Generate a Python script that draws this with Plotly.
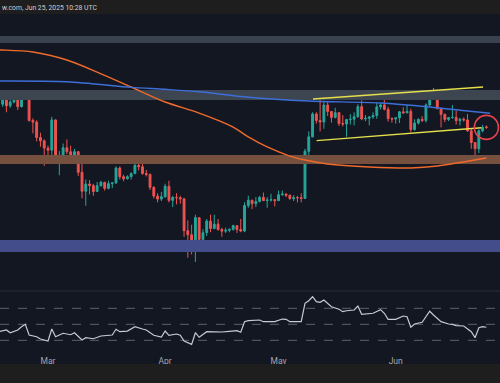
import pandas as pd
import plotly.graph_objects as go

# ---------------- data ----------------
DATES = pd.date_range("2025-02-17", "2025-06-25", freq="D")

OPEN = [2690, 2745, 2672, 2714, 2737, 2662, 2763, 2818, 2512, 2495, 2338, 2306,
        2237, 2217, 2518, 2150, 2170, 2240, 2202, 2140, 2203, 2020, 1865, 1923,
        1910, 1863, 1910, 1937, 1888, 1926, 1932, 2057, 1983, 1966, 1983, 2009,
        2080, 2068, 2009, 2002, 1896, 1828, 1805,
        1823, 1905, 1795, 1817, 1815, 1806, 1580, 1553, 1475, 1669, 1523, 1567,
        1645, 1595, 1624, 1588, 1577, 1583, 1589, 1614, 1588, 1578, 1756, 1796,
        1770, 1786, 1818, 1793, 1798, 1800,
        1793, 1838, 1843, 1834, 1808, 1816, 1815, 1810, 2207, 2345, 2582, 2512,
        2496, 2680, 2609, 2545, 2596, 2480, 2475, 2522, 2526, 2552, 2663, 2528,
        2535, 2550, 2565, 2660, 2682, 2633, 2532,
        2527, 2540, 2605, 2594, 2610, 2418, 2485, 2524, 2512, 2681, 2816, 2770,
        2643, 2578, 2523, 2543, 2545, 2510, 2525, 2518, 2405, 2290, 2230, 2405,
        2445]
HIGH = [2790, 2760, 2740, 2760, 2845, 2790, 2855, 2830, 2535, 2515, 2385, 2320,
        2260, 2550, 2525, 2210, 2280, 2320, 2260, 2230, 2210, 2150, 1960, 1955,
        1925, 1940, 1950, 1940, 1950, 1935, 2070, 2070, 2000, 1995, 2020, 2100,
        2105, 2100, 2040, 2010, 1905, 1850, 1860,
        1925, 1950, 1830, 1850, 1830, 1815, 1650, 1620, 1690, 1672, 1590, 1660,
        1690, 1690, 1660, 1600, 1600, 1595, 1620, 1615, 1660, 1780, 1830, 1800,
        1820, 1830, 1855, 1820, 1845, 1805,
        1870, 1870, 1850, 1840, 1835, 1830, 1850, 2230, 2400, 2600, 2600, 2740,
        2730, 2720, 2615, 2650, 2600, 2570, 2530, 2580, 2600, 2690, 2735, 2570,
        2560, 2600, 2710, 2700, 2790, 2660, 2545,
        2545, 2615, 2655, 2680, 2640, 2525, 2535, 2560, 2700, 2830, 2880, 2790,
        2645, 2585, 2550, 2680, 2620, 2540, 2545, 2580, 2425, 2295, 2420, 2465,
        2460]
LOW = [2660, 2600, 2650, 2700, 2625, 2655, 2745, 2500, 2380, 2300, 2250, 2075,
       2140, 2170, 2100, 1995, 2165, 2180, 2110, 2125, 1990, 1810, 1755, 1840,
       1830, 1860, 1900, 1870, 1880, 1890, 1925, 1960, 1945, 1960, 1960, 2005,
       2035, 2000, 1985, 1875, 1810, 1780, 1790,
       1815, 1780, 1745, 1765, 1770, 1540, 1410, 1430, 1385, 1470, 1505, 1545,
       1570, 1590, 1580, 1540, 1565, 1570, 1580, 1565, 1570, 1570, 1740, 1730,
       1745, 1780, 1790, 1740, 1785, 1750,
       1790, 1830, 1820, 1800, 1790, 1780, 1780, 1805, 2170, 2340, 2480, 2400,
       2425, 2560, 2490, 2535, 2455, 2450, 2345, 2470, 2460, 2540, 2515, 2505,
       2460, 2530, 2530, 2630, 2620, 2500, 2490,
       2480, 2485, 2585, 2590, 2390, 2405, 2470, 2495, 2490, 2660, 2745, 2630,
       2440, 2495, 2505, 2530, 2470, 2460, 2500, 2395, 2230, 2111, 2190, 2390,
       2425]
CLOSE = [2745, 2672, 2714, 2737, 2662, 2763, 2818, 2512, 2495, 2338, 2306, 2237,
         2217, 2518, 2150, 2170, 2240, 2202, 2140, 2203, 2020, 1865, 1923, 1910,
         1863, 1910, 1937, 1888, 1926, 1932, 2057, 1983, 1966, 1983, 2009, 2080,
         2068, 2009, 2002, 1896, 1828, 1805, 1823,
         1905, 1795, 1817, 1815, 1806, 1580, 1553, 1475, 1669, 1523, 1567, 1645,
         1595, 1624, 1588, 1577, 1583, 1589, 1614, 1588, 1578, 1756, 1796, 1770,
         1786, 1818, 1793, 1798, 1800, 1793,
         1838, 1843, 1834, 1808, 1816, 1815, 1810, 2207, 2345, 2582, 2512, 2496,
         2680, 2609, 2545, 2596, 2480, 2475, 2522, 2526, 2552, 2663, 2528, 2535,
         2550, 2565, 2660, 2682, 2633, 2532, 2527,
         2540, 2605, 2594, 2610, 2418, 2485, 2524, 2512, 2681, 2816, 2770, 2643,
         2578, 2523, 2543, 2545, 2510, 2525, 2518, 2405, 2290, 2230, 2405, 2440,
         2440]

# moving averages
MA_ORANGE_DATES = ["2025-02-14", "2025-02-17", "2025-02-25", "2025-03-06", "2025-03-14",
                   "2025-03-23", "2025-04-01", "2025-04-10", "2025-04-19", "2025-04-23",
                   "2025-04-28", "2025-05-04", "2025-05-08", "2025-05-14", "2025-05-25",
                   "2025-06-05", "2025-06-12", "2025-06-25"]
MA_ORANGE = [3382, 3379, 3351, 3240, 3080, 2892, 2715, 2592, 2444, 2344,
             2247, 2163, 2127, 2092, 2066, 2057, 2074, 2145]

MA_BLUE_DATES = ["2025-02-14", "2025-03-06", "2025-03-23", "2025-04-01", "2025-04-10",
                 "2025-04-23", "2025-05-09", "2025-05-28", "2025-06-10", "2025-06-20",
                 "2025-06-26"]
MA_BLUE = [2966, 2957, 2888, 2864, 2835, 2770, 2727, 2704, 2659, 2614, 2590]

# channel trend lines
UPPER_DATES = ["2025-05-10 03:00", "2025-06-24 03:00"]
UPPER = [2750, 2892]
LOWER_DATES = ["2025-05-11 02:00", "2025-06-23 17:00"]
LOWER = [2308, 2437]

# horizontal zones (low, high)
ZONES = [(3480, 3584), (2738, 2856), (2092, 2173), (1445, 1520)]
ZONE_COLORS = ["#3a4250", "#3d4550", "#76503f", "#444d8c"]

# highlighted candle
MARK_DATE = ["2025-06-25"]
MARK_PRICE = [2440]

# RSI
RSI_DATES = ["2025-02-16", "2025-02-18", "2025-02-19", "2025-02-21", "2025-02-22",
             "2025-02-23", "2025-02-24", "2025-02-26", "2025-02-27", "2025-03-01",
             "2025-03-02", "2025-03-03", "2025-03-05", "2025-03-07", "2025-03-08",
             "2025-03-10", "2025-03-11", "2025-03-13", "2025-03-15", "2025-03-17",
             "2025-03-18", "2025-03-19", "2025-03-20", "2025-03-22", "2025-03-24",
             "2025-03-26", "2025-03-27", "2025-03-29", "2025-03-31", "2025-04-01",
             "2025-04-02", "2025-04-04", "2025-04-05", "2025-04-06", "2025-04-08",
             "2025-04-09", "2025-04-10", "2025-04-12", "2025-04-14", "2025-04-16",
             "2025-04-18", "2025-04-20", "2025-04-21", "2025-04-22", "2025-04-23",
             "2025-04-26", "2025-04-27", "2025-04-30", "2025-05-02", "2025-05-03",
             "2025-05-04", "2025-05-07", "2025-05-08", "2025-05-09", "2025-05-10",
             "2025-05-11", "2025-05-12", "2025-05-13", "2025-05-15", "2025-05-17",
             "2025-05-18", "2025-05-19", "2025-05-21", "2025-05-22", "2025-05-23",
             "2025-05-26", "2025-05-28", "2025-05-29", "2025-05-30", "2025-06-01",
             "2025-06-03", "2025-06-04", "2025-06-05", "2025-06-06", "2025-06-08",
             "2025-06-10", "2025-06-11", "2025-06-13", "2025-06-15", "2025-06-16",
             "2025-06-17", "2025-06-19", "2025-06-21", "2025-06-22", "2025-06-23",
             "2025-06-24", "2025-06-25"]
RSI = [40.8, 42.9, 39.5, 42.9, 47.0, 50.0, 36.6, 34.5, 31.6, 29.1,
       44.1, 34.5, 38.8, 37.0, 39.5, 30.4, 33.3, 32.0, 35.4, 36.3,
       36.6, 43.8, 40.8, 41.6, 47.0, 44.1, 42.9, 36.3, 34.1, 41.6,
       36.3, 37.9, 36.3, 29.1, 25.0, 39.5, 33.8, 40.8, 40.4, 40.4,
       41.3, 42.0, 40.0, 53.3, 54.5, 55.4, 53.3, 53.3, 56.6, 56.3,
       53.3, 53.3, 76.3, 79.5, 84.5, 78.3, 77.5, 80.4, 72.0, 68.8,
       65.8, 67.0, 67.9, 72.9, 62.5, 63.8, 68.3, 63.8, 56.3, 56.3,
       60.4, 59.5, 46.3, 50.4, 52.5, 66.3, 61.6, 53.3, 50.4, 50.0,
       48.3, 47.9, 40.8, 33.3, 45.8, 47.0, 46.3]
RSI_LEVELS = [70, 50, 30]

MONTH_TICKS = ["2025-03-01", "2025-04-01", "2025-05-01", "2025-06-01"]
MONTH_LABELS = ["Mar", "Apr", "May", "Jun"]

HEADER = "w.com, Jun 25, 2025 10:28 UTC"

# ---------------- figure ----------------
W, H = 500, 383
BG = "#131722"
BAR = "#1e1e1f"
X_RANGE = ["2025-02-16 07:12", "2025-06-28 14:24"]
BAND_X = ["2025-02-01", "2025-07-15"]


def py(pix):
    return 1 - pix / H


fig = go.Figure()

for (lo, hi), col in zip(ZONES, ZONE_COLORS):
    fig.add_trace(go.Scatter(
        x=[BAND_X[0], BAND_X[1], BAND_X[1], BAND_X[0], BAND_X[0]],
        y=[lo, lo, hi, hi, lo], mode="lines", fill="toself",
        fillcolor=col, line=dict(width=0), hoverinfo="skip",
        xaxis="x", yaxis="y"))

fig.add_trace(go.Scatter(x=MA_ORANGE_DATES, y=MA_ORANGE, mode="lines",
                         line=dict(color="#ef6a2c", width=1.4, shape="spline", smoothing=0.8),
                         xaxis="x", yaxis="y"))
fig.add_trace(go.Scatter(x=MA_BLUE_DATES, y=MA_BLUE, mode="lines",
                         line=dict(color="#3d6fd8", width=1.4, shape="spline", smoothing=0.8),
                         xaxis="x", yaxis="y"))

fig.add_trace(go.Candlestick(
    x=DATES, open=OPEN, high=HIGH, low=LOW, close=CLOSE,
    increasing=dict(line=dict(color="#26a69a", width=1), fillcolor="#26a69a"),
    decreasing=dict(line=dict(color="#ef5350", width=1), fillcolor="#ef5350"),
    whiskerwidth=0, xaxis="x", yaxis="y"))

fig.add_trace(go.Scatter(x=UPPER_DATES, y=UPPER, mode="lines",
                         line=dict(color="#e4df4c", width=1.4), xaxis="x", yaxis="y"))
fig.add_trace(go.Scatter(x=LOWER_DATES, y=LOWER, mode="lines",
                         line=dict(color="#e4df4c", width=1.4), xaxis="x", yaxis="y"))

fig.add_trace(go.Scatter(x=MARK_DATE, y=MARK_PRICE, mode="markers",
                         marker=dict(symbol="circle-open", size=24,
                                     line=dict(color="#e8424f", width=1.6),
                                     color="#e8424f"),
                         xaxis="x", yaxis="y"))

fig.add_trace(go.Scatter(x=RSI_DATES, y=RSI, mode="lines",
                         line=dict(color="#c4cad6", width=1.2),
                         xaxis="x2", yaxis="y2"))

shapes = []
for lv in RSI_LEVELS:
    shapes.append(dict(type="line", xref="paper", x0=0, x1=1, yref="y2", y0=lv, y1=lv,
                       line=dict(color="#5d606b", width=1, dash="dash"), layer="below"))
# pane separator
shapes.append(dict(type="line", xref="paper", x0=0, x1=1, yref="paper",
                   y0=py(291), y1=py(291), line=dict(color="#2a2e39", width=1)))
# header & footer bars
shapes.append(dict(type="rect", xref="paper", yref="paper", x0=0, x1=1,
                   y0=py(14), y1=1, fillcolor=BAR, line=dict(width=0), layer="above"))
shapes.append(dict(type="rect", xref="paper", yref="paper", x0=0, x1=1,
                   y0=0, y1=py(364), fillcolor=BAR, line=dict(width=0), layer="above"))

fig.update_layout(
    width=W, height=H, margin=dict(l=0, r=0, t=0, b=0),
    paper_bgcolor=BG, plot_bgcolor=BG, showlegend=False,
    shapes=shapes,
    xaxis=dict(domain=[0, 1], range=X_RANGE, anchor="y", showgrid=False,
               showticklabels=False, zeroline=False, showline=False,
               rangeslider=dict(visible=False), type="date"),
    yaxis=dict(domain=[py(290), py(14)], type="log", range=[3.0903, 3.5946],
               showgrid=False, showticklabels=False, zeroline=False, showline=False),
    xaxis2=dict(domain=[0, 1], range=X_RANGE, anchor="y2", matches="x", type="date",
                showgrid=False, zeroline=False, showline=False,
                tickmode="array", tickvals=MONTH_TICKS, ticktext=MONTH_LABELS,
                tickfont=dict(family="Roboto", size=8.5, color="#a3a6af"), ticks="",
                ticklabelstandoff=4),
    yaxis2=dict(domain=[py(350), py(292)], range=[17.9, 90.4], showgrid=False,
                showticklabels=False, zeroline=False, showline=False),
    annotations=[dict(text=HEADER, xref="paper", yref="paper", x=0.0, y=py(8),
                      xanchor="left", yanchor="middle", showarrow=False,
                      font=dict(family="Roboto", size=6.8, color="#cfcfcf"))],
)

fig.write_html("out.html", config=dict(displayModeBar=False),
               post_script="document.body.style.margin='0px';document.body.style.overflow='hidden';")
